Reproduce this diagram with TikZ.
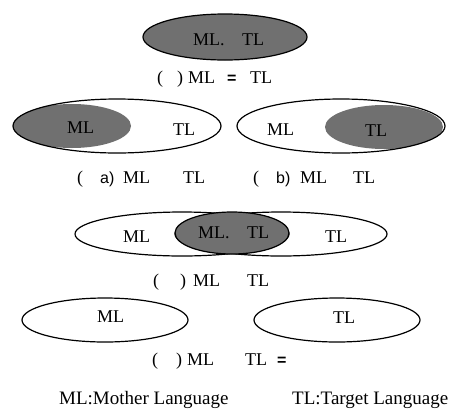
\documentclass[tikz,border=0pt]{standalone}
\usepackage{fontspec}
\setmainfont{Liberation Serif}
\setsansfont{Liberation Sans}
\usetikzlibrary{shapes.geometric}
\definecolor{shade}{RGB}{112,112,112}
\begin{document}
\begin{tikzpicture}[x=1pt,y=-1pt,
  outline/.style={ellipse, draw=black, line width=1.2pt, inner sep=0pt},
  blob/.style={ellipse, fill=shade, inner sep=0pt},
  txt/.style={font=\fontsize{18}{21}\selectfont, inner sep=0pt, anchor=base west},
  legtxt/.style={font=\fontsize{19}{22}\selectfont, inner sep=0pt, anchor=base west},
  stxt/.style={font=\sffamily\fontsize{16}{20}\selectfont, inner sep=0pt, anchor=base west},
  eqs/.style={font=\sffamily\bfseries\fontsize{16}{20}\selectfont, inner sep=0pt, anchor=base west},
]
\useasboundingbox (0,0) rectangle (452,410);

% ---- top: ML = TL
\node[outline, fill=shade, minimum width=164pt, minimum height=46pt] (e0) at (225,37) {};
\node[txt] (e0ml) at (193,45) {ML.};
\node[txt] (e0tl) at (242,45) {TL};
\node[txt] (l0a) at (157,83) {(};
\node[txt] (l0b) at (177,83) {)};
\node[txt] (l0c) at (188,83) {ML};
\node[eqs] (l0d) at (227,83) {=};
\node[txt] (l0e) at (250,83) {TL};

% ---- row 2 left (a)
\begin{scope}
  \clip (117,126) ellipse (104pt and 27pt);
  \node[blob, minimum width=118pt, minimum height=44pt] (g1) at (72,126) {};
\end{scope}
\node[outline, minimum width=208pt, minimum height=54pt] (e1) at (117,126) {};
\node[txt] (e1ml) at (67,133) {ML};
\node[txt] (e1tl) at (173,135) {TL};
\node[txt] (l1a) at (77,183) {(};
\node[stxt] (l1b) at (100,183) {a)};
\node[txt] (l1c) at (123,183) {ML};
\node[txt] (l1d) at (183,183) {TL};

% ---- row 2 right (b)
\begin{scope}
  \clip (341,126) ellipse (104pt and 27pt);
  \node[blob, minimum width=118pt, minimum height=44pt] (g2) at (384,127) {};
\end{scope}
\node[outline, minimum width=208pt, minimum height=54pt] (e2) at (341,126) {};
\node[txt] (e2ml) at (267,135) {ML};
\node[txt] (e2tl) at (365,136) {TL};
\node[txt] (l2a) at (253,183) {(};
\node[stxt] (l2b) at (276,183) {b)};
\node[txt] (l2c) at (300,183) {ML};
\node[txt] (l2d) at (353,183) {TL};

% ---- row 3 overlap
\node[outline, minimum width=214pt, minimum height=44pt] (e3l) at (182,234) {};
\node[outline, minimum width=212pt, minimum height=44pt] (e3r) at (281,234) {};
\node[outline, fill=shade, minimum width=114pt, minimum height=42pt] (e3c) at (232,233) {};
\node[txt] (e3ml) at (123,242) {ML};
\node[txt] (e3cm) at (198,238) {ML.};
\node[txt] (e3ct) at (247,238) {TL};
\node[txt] (e3tl) at (325,242) {TL};
\node[txt] (l3a) at (153,286) {(};
\node[txt] (l3b) at (180,286) {)};
\node[txt] (l3c) at (193,286) {ML};
\node[txt] (l3d) at (247,286) {TL};

% ---- row 4 separate
\node[outline, minimum width=166pt, minimum height=44pt] (e4l) at (105,320) {};
\node[outline, minimum width=166pt, minimum height=44pt] (e4r) at (337,320) {};
\node[txt] (e4ml) at (97,322) {ML};
\node[txt] (e4tl) at (333,323) {TL};
\node[txt] (l4a) at (152,365) {(};
\node[txt] (l4b) at (176,365) {)};
\node[txt] (l4c) at (187,365) {ML};
\node[txt] (l4d) at (245,365) {TL};
\node[eqs] (l4e) at (277,365) {=};

% ---- legend
\node[legtxt] (leg1) at (59,404) {ML:Mother Language};
\node[legtxt] (leg2) at (292,404) {TL:Target Language};
\end{tikzpicture}
\end{document}
